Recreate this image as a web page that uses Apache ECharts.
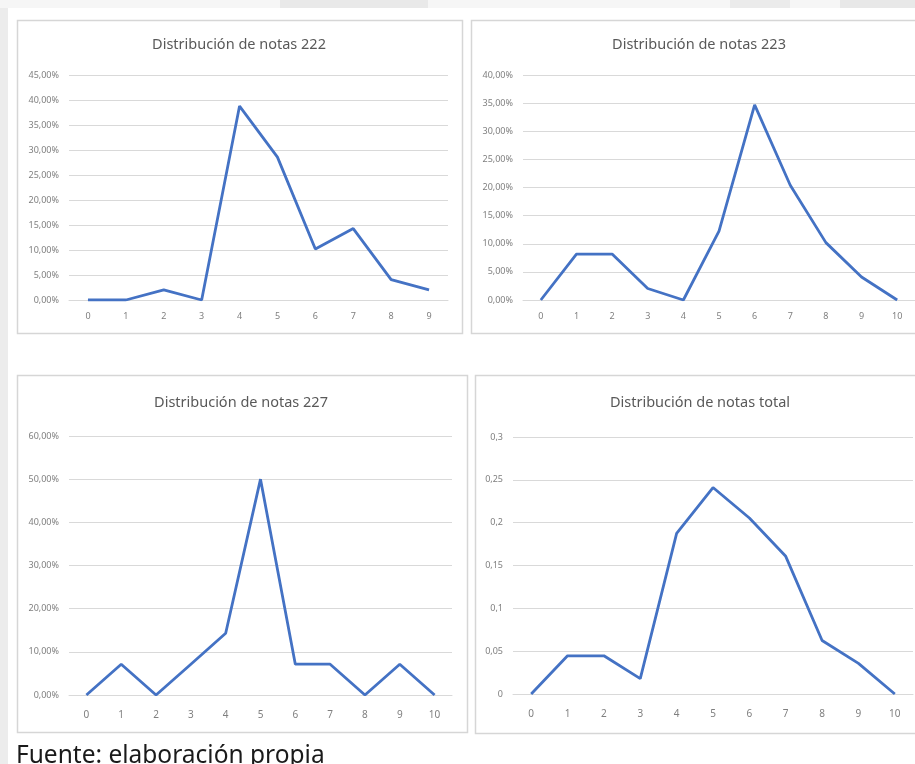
<!DOCTYPE html>
<html>
<head>
<meta charset="utf-8">
<script src="https://cdn.jsdelivr.net/npm/echarts@6/dist/echarts.min.js"></script>
<style>
  html, body { margin: 0; padding: 0; background: #fff; }
  #chart { width: 915px; height: 764px; }
</style>
</head>
<body>
<div id="chart"></div>
<script>
// notas (categorías del eje x)
const notas9 = ["0", "1", "2", "3", "4", "5", "6", "7", "8", "9"];
const notas10 = ["0", "1", "2", "3", "4", "5", "6", "7", "8", "9", "10"];

// distribuciones (en %)
const dist222 = [0, 0, 2.04, 0, 38.78, 28.57, 10.2, 14.29, 4.08, 2.04];
const dist223 = [0, 8.16, 8.16, 2.04, 0, 12.24, 34.69, 20.41, 10.2, 4.08, 0];
const dist227 = [0, 7.14, 0, 7.14, 14.29, 50, 7.14, 7.14, 0, 7.14, 0];
// total en fracción
const distTotal = [0, 0.0446, 0.0446, 0.0179, 0.1875, 0.241, 0.2054, 0.1607, 0.0625, 0.0357, 0];

const titulos = [
  "Distribución de notas 222",
  "Distribución de notas 223",
  "Distribución de notas 227",
  "Distribución de notas total"
];
const fuente = "Fuente: elaboración propia";

const chart = echarts.init(document.getElementById("chart"));

const gris = "#7f7f7f";
const lineaGrid = "#d9d9d9";
const azul = "#4472C4";

const pct = (v) => v.toFixed(2).replace(".", ",") + "%";
const dec = (v) => String(parseFloat(v.toFixed(2))).replace(".", ",");

const grids = [
  { left: 69, top: 75, width: 379, height: 225 },
  { left: 523, top: 75, width: 392, height: 225 },
  { left: 69, top: 436, width: 383, height: 259 },
  { left: 513, top: 437, width: 400, height: 257 }
];

const yCfg = [
  { max: 45, interval: 5, fmt: pct },
  { max: 40, interval: 5, fmt: pct },
  { max: 60, interval: 10, fmt: pct },
  { max: 0.3, interval: 0.05, fmt: dec }
];
const cats = [notas9, notas10, notas10, notas10];
const datos = [dist222, dist223, dist227, distTotal];
const labelMargin = [12, 12, 15, 15];

const xAxis = cats.map((c, i) => ({
  type: "category",
  gridIndex: i,
  data: c,
  boundaryGap: true,
  axisLine: { show: true, lineStyle: { color: lineaGrid, width: 1 } },
  axisTick: { show: false },
  axisLabel: { color: gris, fontSize: i < 2 ? 9 : 10, margin: labelMargin[i], fontFamily: "Noto Sans" }
}));

const yAxis = yCfg.map((c, i) => ({
  type: "value",
  gridIndex: i,
  min: 0,
  max: c.max,
  interval: c.interval,
  axisLine: { show: false },
  axisTick: { show: false },
  splitLine: { lineStyle: { color: lineaGrid, width: 1 } },
  axisLabel: { color: gris, fontSize: 9, margin: 10, fontFamily: "Noto Sans", formatter: c.fmt }
}));

const series = datos.map((d, i) => ({
  type: "line",
  xAxisIndex: i,
  yAxisIndex: i,
  data: d,
  symbol: "none",
  lineStyle: { color: azul, width: 2.8 },
  animation: false
}));

// cajas de cada gráfico
const cajas = [
  [17, 20, 445, 313],
  [471, 20, 452, 313],
  [17, 375, 450, 357],
  [475, 375, 450, 358]
];
const centrosTitulo = [[239, 45], [699, 45], [241, 403], [700, 403]];

const graphic = [
  { type: "rect", shape: { x: 0, y: 0, width: 915, height: 8 }, style: { fill: "#f6f6f6" }, z: -10 },
  { type: "rect", shape: { x: 280, y: 0, width: 148, height: 8 }, style: { fill: "#e9e9e9" }, z: -9 },
  { type: "rect", shape: { x: 730, y: 0, width: 60, height: 8 }, style: { fill: "#ebebeb" }, z: -9 },
  { type: "rect", shape: { x: 840, y: 0, width: 75, height: 8 }, style: { fill: "#e8e8e8" }, z: -9 },
  { type: "rect", shape: { x: 0, y: 8, width: 8, height: 756 }, style: { fill: "#ececec" }, z: -10 }
];
cajas.forEach((b) => {
  graphic.push({
    type: "rect",
    shape: { x: b[0] + 0.5, y: b[1] + 0.5, width: b[2], height: b[3] },
    style: { fill: "#fff", stroke: "#d6d6d6", lineWidth: 1.5 },
    z: -5
  });
});
titulos.forEach((t, i) => {
  graphic.push({
    type: "text",
    style: {
      text: t,
      x: centrosTitulo[i][0],
      y: centrosTitulo[i][1],
      align: "center",
      textAlign: "center",
      verticalAlign: "middle",
      textVerticalAlign: "middle",
      fill: "#595959",
      font: "14.5px 'Noto Sans'"
    },
    z: 10
  });
});
graphic.push({
  type: "text",
  style: {
    text: fuente,
    x: 16,
    y: 756,
    align: "left",
    textAlign: "left",
    verticalAlign: "middle",
    textVerticalAlign: "middle",
    fill: "#1a1a1a",
    font: "24.5px 'Noto Sans'"
  },
  z: 10
});

chart.setOption({
  backgroundColor: "#ffffff",
  animation: false,
  grid: grids,
  xAxis: xAxis,
  yAxis: yAxis,
  series: series,
  graphic: graphic
});

window.addEventListener("resize", () => {
  chart && chart.resize();
});
</script>
</body>
</html>
